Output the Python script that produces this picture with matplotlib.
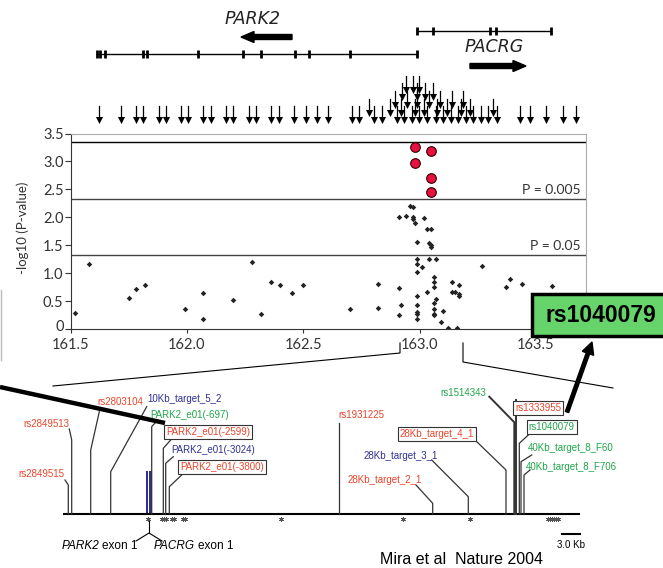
import matplotlib
matplotlib.use("Agg")
import matplotlib.pyplot as plt
import matplotlib.transforms as mtransforms
from matplotlib.patches import Rectangle, FancyArrow
import numpy as np

W, H = 663, 568

# ---- association scan (position in Mb, -log10 P) ----
snp_pos = [161.52, 161.58, 161.75, 161.78, 161.82, 161.99, 162.07, 162.07, 162.20,
           162.28, 162.32, 162.36, 162.40, 162.45, 162.50, 162.70, 162.82, 162.82,
           162.91, 162.91, 162.92, 162.99, 162.99, 163.01, 162.99, 162.99, 162.99,
           162.99, 162.99, 162.99, 163.04, 163.07, 163.06, 163.06, 163.06, 163.03,
           163.07, 163.06, 163.06, 163.06, 163.06, 163.10, 163.09, 163.12, 163.16,
           163.14, 163.17, 163.14, 163.15, 163.17, 163.17, 163.27, 163.39, 163.37,
           163.44, 163.57,
           162.96, 162.97, 162.91, 162.94, 162.97, 162.97, 163.02, 162.98, 163.03,
           163.05, 162.99, 163.04, 163.05, 163.05]
snp_logp = [0.29, 1.17, 0.56, 0.72, 0.79, 0.36, 0.64, 0.19, 0.53,
            1.20, 0.27, 0.84, 0.79, 0.65, 0.79, 0.36, 0.38, 0.81,
            0.74, 0.25, 0.44, 1.25, 1.17, 1.12, 1.02, 0.59, 0.44,
            0.31, 0.27, 0.18, 1.25, 1.25, 0.94, 0.84, 0.76, 0.67,
            0.55, 0.47, 0.37, 0.28, 0.25, 0.32, 0.13, 0.02, 0.02,
            0.84, 0.79, 0.66, 0.67, 0.63, 0.60, 1.13, 0.90, 0.75,
            0.81, 0.77,
            2.20, 2.19, 2.00, 2.02, 2.00, 1.97, 1.99, 1.90, 1.79,
            1.79, 1.56, 1.55, 1.50, 1.48]
top_pos = [162.98, 163.05, 162.98, 163.05, 163.05]
top_logp = [3.26, 3.18, 2.97, 2.71, 2.45]
thresholds = [3.35, 2.33, 1.33]
thr_labels = ["", "P = 0.005", "P = 0.05"]
xticks = [161.5, 162.0, 162.5, 163.0, 163.5]
yticks = [0, 0.5, 1.0, 1.5, 2.0, 2.5, 3.0, 3.5]
ytick_labels = ["0", "0.5", "1.0", "1.5", "2.0", "2.5", "3.0", "3.5"]

# ---- gene map (map pixels) ----
park2_exons = [97, 99.5, 105, 143, 147, 198, 243, 261, 295, 309, 350, 417]
pacrg_exons = [417, 433, 490, 496, 551]

# genotyped SNP arrows, grouped by stacking tier
arrows_t0 = [99, 120.7, 135.7, 142.7, 158.7, 166, 180.7, 188.3, 203.3, 211, 226, 233.3,
             248.7, 256, 271.3, 279, 294.3, 306, 317.3, 328.3, 351.7, 359.3, 374,
             381.7, 396.7, 404, 411.7, 419.3, 427.3, 436, 443.3, 450.7, 458.3, 466,
             473.3, 480.7, 488.3, 496.7, 520, 530, 546, 562.7, 576]
arrows_t1 = [369.3, 390, 400.7, 415, 424, 437.3, 447.3, 460.7, 470, 493.3]
arrows_t2 = [395, 406.7, 417.3, 429.3, 440, 451.7, 462.7]
arrows_t3 = [401.7, 417.3, 425, 432.7]
arrows_t4 = [406, 412.7, 419.3]

# ---- fine map markers ----
RED, BLUE, GREEN = "#e8452c", "#2e3192", "#1fa64a"
markers = ["rs2849513", "rs2849515", "rs2803104", "10Kb_target_5_2", "PARK2_e01(-697)",
           "PARK2_e01(-2599)", "PARK2_e01(-3024)", "PARK2_e01(-3800)", "rs1931225",
           "28Kb_target_2_1", "28Kb_target_3_1", "28Kb_target_4_1", "rs1514343",
           "rs1333955", "rs1040079", "40Kb_target_8_F60", "40Kb_target_8_F706"]
marker_x = [71.7, 68.3, 90.7, 110.7, 151.7, 163.3, 165.7, 169.3, 339,
            432.7, 468.3, 506, 514.3, 516, 519.3, 521, 524]
marker_col = [RED, RED, RED, BLUE, GREEN, RED, BLUE, RED, RED,
              RED, BLUE, RED, GREEN, RED, GREEN, GREEN, GREEN]
marker_boxed = [False, False, False, False, False, True, False, True, False,
                False, False, True, False, True, True, False, False]
label_xy = [(46.7, 424), (41.7, 474), (120.7, 402), (184.3, 399), (190, 415),
            (208.3, 432.3), (213.3, 450), (221.7, 467.3), (361.7, 415),
            (385, 480), (400.7, 456), (436.7, 434.3), (463.3, 392.7),
            (538.3, 407.7), (551.7, 427.3), (570.7, 447.7), (571.7, 467.3)]
leader_start = [(69.3, 429), (65, 480), (99.3, 411.7), (146.7, 406.7), (155, 423),
                (170.7, 440), (173.3, 456.7), (181.7, 475), (339, 423),
                (416, 485), (431.7, 460), (475, 440), (489.3, 396.7),
                (516, 400), (528.3, 435), (531.7, 455), (530, 470)]
leader_elbow = [440, 485, 450, 471.7, 426.7, 448.3, 463.3, 486.7, 423,
                503.3, 496.7, 470, 422.3, 400, 443.3, 461.7, 475]
star_x = [147.7, 162, 164, 166, 172.3, 173.5, 182.7, 185, 281, 402.7, 470,
          548, 550, 552, 554, 556, 558]

fig = plt.figure(figsize=(W / 100, H / 100), dpi=100)
fig.patch.set_facecolor("white")
axfont = ["Lato", "DejaVu Sans"]
narrow = ["Liberation Sans", "DejaVu Sans"]

# scatter panel
ax = fig.add_axes([70.5 / W, 1 - 329.3 / H, 515.5 / W, 195.8 / H])
ax.set_xlim(161.5, 161.5 + 515.5 / 232.75)
ax.set_ylim(0, 3.5)
for y, lab in zip(thresholds, thr_labels):
    ax.axhline(y, color="black" if y > 3 else "#444444", lw=1)
    if lab:
        ax.text(163.69, y + 0.05, lab, ha="right", va="bottom", fontsize=10,
                color="#333333", family=axfont)
ax.scatter(snp_pos, snp_logp, s=8, marker="D", color="#222222", lw=0)
ax.scatter(top_pos, top_logp, s=48, color="#e8103f", edgecolor="#330000", lw=0.8, zorder=3)
ax.set_xticks(xticks)
ax.set_xticklabels(["%.1f" % v for v in xticks], family=axfont, fontsize=10.5, color="#333333")
ax.set_yticks(yticks)
ax.set_yticklabels(ytick_labels, family=axfont, fontsize=10.5, color="#333333")
ax.tick_params(length=4, width=0.8, color="#333333", pad=1)
ax.tick_params(axis="x", length=3, pad=3)
# lift the "0" label a little so it clears the x labels
zero_lab = ax.get_yticklabels()[0]
zero_lab.set_transform(zero_lab.get_transform() +
                       mtransforms.ScaledTranslation(0, 3 / 72, fig.dpi_scale_trans))
for s in ["top", "right"]:
    ax.spines[s].set_color("#aaaaaa")
for s in ["left", "bottom"]:
    ax.spines[s].set_color("#333333")
fig.text(23 / W, 1 - 228 / H, "-log10 (P-value)", rotation=90, ha="center", va="center",
         fontsize=9.5, color="#333333", family=axfont)

# overlay for drawings in map pixels
ov = fig.add_axes([0, 0, 1, 1])
ov.set_xlim(0, W)
ov.set_ylim(H, 0)
ov.axis("off")

# gene structures
ov.plot([park2_exons[0], park2_exons[-1]], [54, 54], color="black", lw=1)
for x in park2_exons:
    ov.plot([x, x], [50, 58], color="black", lw=2, solid_capstyle="butt")
ov.plot([pacrg_exons[0], pacrg_exons[-1]], [31, 31], color="black", lw=1)
for x in pacrg_exons:
    ov.plot([x, x], [27, 35], color="black", lw=2, solid_capstyle="butt")
ov.text(253, 19, "PARK2", style="italic", fontsize=12.5, ha="center", va="center", color="#222222")
ov.text(494, 47, "PACRG", style="italic", fontsize=12.5, ha="center", va="center", color="#222222")
ov.add_patch(FancyArrow(292, 37, -51, 0, width=5, head_width=11, head_length=13,
                        length_includes_head=True, color="black"))
ov.add_patch(FancyArrow(470, 66, 56, 0, width=5, head_width=11, head_length=13,
                        length_includes_head=True, color="black"))

# SNP arrows
for xs, tip in [(arrows_t0, 123), (arrows_t1, 116), (arrows_t2, 108), (arrows_t3, 100), (arrows_t4, 93)]:
    for x in xs:
        ov.plot([x, x], [tip - 17, tip - 5], color="black", lw=0.9)
    ov.scatter(xs, [tip - 3.5] * len(xs), marker="v", s=26, color="black", lw=0)

# zoom lines
ov.plot([400, 400, 53], [343, 353, 386], color="black", lw=0.8)
ov.plot([463, 463, 613], [343, 362, 388], color="black", lw=0.8)
ov.plot([1, 1], [290, 360], color="#bbbbbb", lw=1)

# fine map
ov.plot([64, 579], [514, 514], color="black", lw=1.5)
for i, name in enumerate(markers):
    sx, sy = leader_start[i]
    x = marker_x[i]
    lw = 1.4 if name in ("rs1514343", "rs1333955") else 0.9
    ov.plot([sx, x, x], [sy, leader_elbow[i], 514], color="#333333", lw=lw)
    bbox = dict(boxstyle="square,pad=0.2", fc="white", ec="#333333", lw=0.8) if marker_boxed[i] else None
    ov.text(label_xy[i][0], label_xy[i][1], name, color=marker_col[i], ha="center", va="center",
            fontsize=7, family=narrow, bbox=bbox)
ov.add_patch(Rectangle((145.5, 471), 2.8, 43, color=BLUE, lw=0))
ov.add_patch(Rectangle((148.8, 471), 2.8, 43, color=BLUE, lw=0))
ov.scatter(star_x, [519] * len(star_x), marker=(6, 2, 0), s=9, color="#555555", lw=0.6)
ov.plot([149, 149], [521, 533], color="black", lw=0.8)
ov.plot([136, 149, 162], [541, 533, 541], color="black", lw=0.8)
ov.text(99, 546, "PARK2", style="italic", ha="right", va="center", fontsize=8.5, family=narrow)
ov.text(101.5, 546, "exon 1", ha="left", va="center", fontsize=8.5, family=narrow)
ov.text(195, 546, "PACRG", style="italic", ha="right", va="center", fontsize=8.5, family=narrow)
ov.text(197.5, 546, "exon 1", ha="left", va="center", fontsize=8.5, family=narrow)
ov.plot([562, 580], [534, 534], color="black", lw=1.5)
ov.text(571, 545, "3.0 Kb", ha="center", va="center", fontsize=7, family=narrow)
ov.text(462, 559, "Mira et al  Nature 2004", ha="center", va="center", fontsize=11.5,
        family=["Liberation Sans", "DejaVu Sans"])

# highlight box and pointers
ov.plot([0, 165], [387, 423], color="black", lw=3.2, solid_capstyle="butt")
ov.add_patch(FancyArrow(567, 412, 25, -70, width=3.5, head_width=12, head_length=12,
                        length_includes_head=True, color="black"))
ov.add_patch(Rectangle((531.5, 294), 140, 42, fc="#66d46a", ec="black", lw=2.5, clip_on=False))
ov.text(600.5, 315.5, "rs1040079", ha="center", va="center", fontsize=16.5, fontweight="bold",
        family=["Liberation Sans", "DejaVu Sans"])

fig.savefig("out.png", dpi=100)
